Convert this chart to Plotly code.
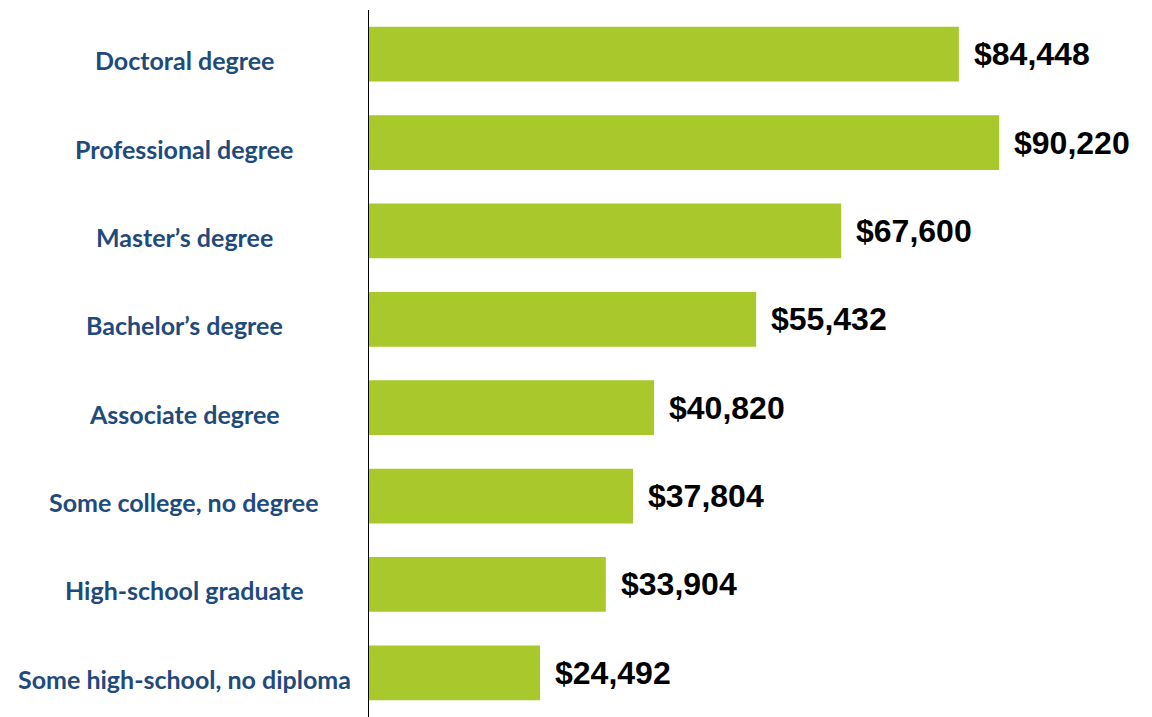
import plotly.graph_objects as go

degrees = [
    "Doctoral degree",
    "Professional degree",
    "Master’s degree",
    "Bachelor’s degree",
    "Associate degree",
    "Some college, no degree",
    "High-school graduate",
    "Some high-school, no diploma",
]
earnings = [84448, 90220, 67600, 55432, 40820, 37804, 33904, 24492]

BAR_GREEN = "#A8C82B"
LABEL_BLUE = "#1F4A7C"

fig = go.Figure(
    go.Bar(
        x=earnings,
        y=degrees,
        orientation="h",
        marker=dict(color=BAR_GREEN, line=dict(width=0)),
        hoverinfo="skip",
    )
)

# value labels to the right of each bar
for d, v in zip(degrees, earnings):
    fig.add_annotation(
        x=v,
        y=d,
        text=f"${v:,}",
        xanchor="left",
        xshift=13,
        showarrow=False,
        font=dict(family="Liberation Sans, Arial", size=32, color="black", weight="bold"),
    )

# category labels, centred in the left margin
for d in degrees:
    fig.add_annotation(
        x=-0.236,
        xref="paper",
        y=d,
        yshift=-6,
        text=d,
        xanchor="center",
        showarrow=False,
        font=dict(family="Lato", size=25, color=LABEL_BLUE, weight="bold"),
    )

fig.update_yaxes(
    categoryorder="array",
    categoryarray=degrees,
    autorange="reversed",
    showticklabels=False,
    showgrid=False,
    zeroline=False,
    showline=True,
    linecolor="black",
    linewidth=1,
)
fig.update_xaxes(
    range=[0, 112100],
    showticklabels=False,
    showgrid=False,
    zeroline=False,
    showline=False,
)

# page body adds an 8px offset, so the figure is sized to fit the window
fig.update_layout(
    width=1144,
    height=709,
    margin=dict(l=361, r=0, t=2, b=0),
    bargap=0.38,
    plot_bgcolor="white",
    paper_bgcolor="white",
    showlegend=False,
)

fig.write_html("out.html")
